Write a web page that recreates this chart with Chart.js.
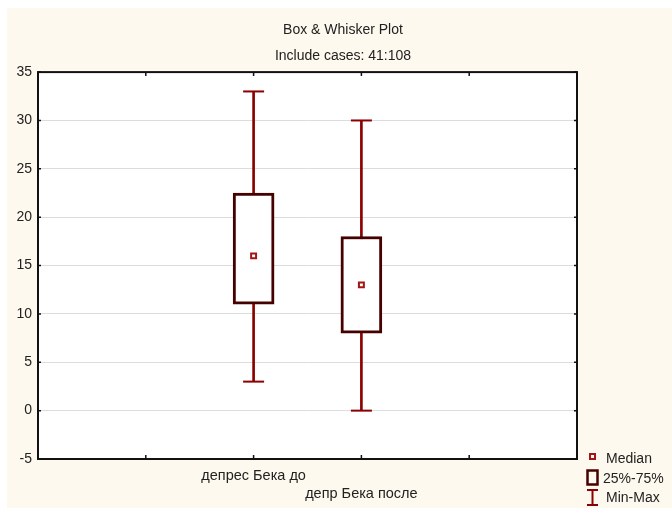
<!DOCTYPE html>
<html>
<head>
<meta charset="utf-8">
<script src="https://cdn.jsdelivr.net/npm/chart.js@4/dist/chart.umd.min.js"></script>
<style>
  html, body { margin: 0; padding: 0; background: #ffffff; }
  #wrap { width: 672px; height: 508px; }
</style>
</head>
<body>
<div id="wrap"><canvas id="boxChart" width="672" height="508"></canvas></div>
<script>
// values
const categories = ['депрес Бека до', 'депр Бека после'];
const positions = [2, 3];
const medians = [16, 13];
const lowQ = [11, 8];
const highQ = [22.5, 18];
const mins = [3, 0];
const maxs = [33, 30];
const yTicks = [-5, 0, 5, 10, 15, 20, 25, 30, 35];

const FONT = '"Liberation Sans", Arial, sans-serif';
const BG = '#fdf9ee';
const BOX_EDGE = '#450000';
const WHISKER = '#8b0000';
const MEDIAN = '#a31515';
const TEXT = '#222222';

const boxData = positions.map((x, i) => ({ x, y: [lowQ[i], highQ[i]] }));
const whiskerData = positions.map((x, i) => ({ x, y: [mins[i], maxs[i]] }));
const capData = positions.flatMap((x, i) => [{ x, y: mins[i] }, { x, y: maxs[i] }]);
const medianData = positions.map((x, i) => ({ x, y: medians[i] }));

const frame = {
  id: 'frame',
  beforeDraw(chart) {
    const { ctx, chartArea: a } = chart;
    ctx.save();
    ctx.fillStyle = BG;
    ctx.fillRect(7, 8, chart.width - 7, chart.height - 8);
    ctx.fillStyle = '#ffffff';
    ctx.fillRect(a.left, a.top, a.right - a.left, a.bottom - a.top);
    ctx.restore();
  },
  afterDraw(chart) {
    const { ctx, chartArea: a, scales } = chart;
    ctx.save();
    ctx.strokeStyle = '#111111';
    ctx.lineWidth = 2;
    ctx.strokeRect(a.left, a.top, a.right - a.left, a.bottom - a.top);
    // inward tick marks
    ctx.lineWidth = 1.5;
    ctx.beginPath();
    scales.y.ticks.forEach((t) => {
      const py = scales.y.getPixelForValue(t.value);
      ctx.moveTo(a.left, py); ctx.lineTo(a.left + 3, py);
      ctx.moveTo(a.right, py); ctx.lineTo(a.right - 3, py);
    });
    scales.x.ticks.forEach((t) => {
      const px = scales.x.getPixelForValue(t.value);
      ctx.moveTo(px, a.top); ctx.lineTo(px, a.top + 4);
      ctx.moveTo(px, a.bottom); ctx.lineTo(px, a.bottom - 4);
    });
    ctx.stroke();

    // legend
    ctx.strokeStyle = MEDIAN;
    ctx.lineWidth = 2;
    ctx.strokeRect(590, 454, 5, 5);
    ctx.strokeStyle = BOX_EDGE;
    ctx.lineWidth = 2.5;
    ctx.strokeRect(587.5, 470.5, 10, 14);
    ctx.strokeStyle = WHISKER;
    ctx.lineWidth = 2;
    ctx.beginPath();
    ctx.moveTo(587, 490); ctx.lineTo(598, 490);
    ctx.moveTo(592.5, 490); ctx.lineTo(592.5, 505);
    ctx.moveTo(587, 505); ctx.lineTo(598, 505);
    ctx.stroke();
    ctx.fillStyle = TEXT;
    ctx.font = '14px ' + FONT;
    ctx.textBaseline = 'middle';
    ctx.fillText('Median', 606, 459);
    ctx.fillText('25%-75%', 603, 479);
    ctx.fillText('Min-Max', 606, 498);
    ctx.restore();
  }
};

new Chart(document.getElementById('boxChart'), {
  type: 'bar',
  data: {
    datasets: [
      {
        label: 'Min-Max',
        data: whiskerData,
        backgroundColor: WHISKER,
        borderWidth: 0,
        barThickness: 2,
        grouped: false,
        order: 3
      },
      {
        type: 'line',
        label: 'caps',
        data: capData,
        showLine: false,
        pointStyle: 'line',
        pointRadius: 10.5,
        pointBorderWidth: 2,
        pointBorderColor: WHISKER,
        order: 3
      },
      {
        label: '25%-75%',
        data: boxData,
        backgroundColor: '#ffffff',
        borderColor: BOX_EDGE,
        borderWidth: 3,
        borderSkipped: false,
        barThickness: 41,
        grouped: false,
        order: 2
      },
      {
        type: 'line',
        label: 'Median',
        data: medianData,
        showLine: false,
        pointStyle: 'rect',
        pointRadius: 3.5,
        pointBackgroundColor: '#ffffff',
        pointBorderColor: MEDIAN,
        pointBorderWidth: 2,
        order: 1
      }
    ]
  },
  options: {
    responsive: false,
    animation: false,
    layout: { padding: { left: 14, right: 0, top: 0, bottom: 0 } },
    plugins: {
      legend: { display: false },
      tooltip: { enabled: false },
      title: {
        display: true,
        text: 'Box & Whisker Plot',
        color: TEXT,
        font: { family: FONT, size: 14, weight: 'normal' },
        padding: { top: 21.5, bottom: 4.5 }
      },
      subtitle: {
        display: true,
        text: 'Include cases: 41:108',
        color: TEXT,
        font: { family: FONT, size: 14, weight: 'normal' },
        padding: { top: 5, bottom: 7.5 }
      }
    },
    scales: {
      x: {
        type: 'linear',
        offset: false,
        min: 0,
        max: 5,
        ticks: {
          stepSize: 1,
          autoSkip: false,
          maxRotation: 0,
          padding: 8,
          color: TEXT,
          font: { family: FONT, size: 14.5, lineHeight: 1.24 },
          callback: (v) => {
            const i = positions.indexOf(v);
            if (i < 0) return '';
            return i % 2 === 0 ? categories[i] : ['', categories[i]];
          }
        },
        grid: { display: false, drawTicks: false, offset: false },
        border: { display: false },
        afterFit: (s) => { s.height = 49; }
      },
      y: {
        min: -5,
        max: 35,
        afterBuildTicks: (s) => { s.ticks = yTicks.map((v) => ({ value: v })); },
        ticks: {
          padding: 6,
          color: TEXT,
          font: { family: FONT, size: 14 }
        },
        grid: {
          color: (c) => (c.tick && (c.tick.value === -5 || c.tick.value === 35) ? 'rgba(0,0,0,0)' : '#dcdcdc'),
          lineWidth: 1,
          drawTicks: false
        },
        border: { display: false },
        afterFit: (s) => { s.width = 24; }
      },
      // empty right-hand strip that holds the legend
      legendSpace: {
        type: 'linear',
        position: 'right',
        ticks: { display: false },
        grid: { display: false, drawTicks: false },
        border: { display: false },
        afterFit: (s) => { s.width = 95; }
      }
    }
  },
  plugins: [frame]
});
</script>
</body>
</html>
